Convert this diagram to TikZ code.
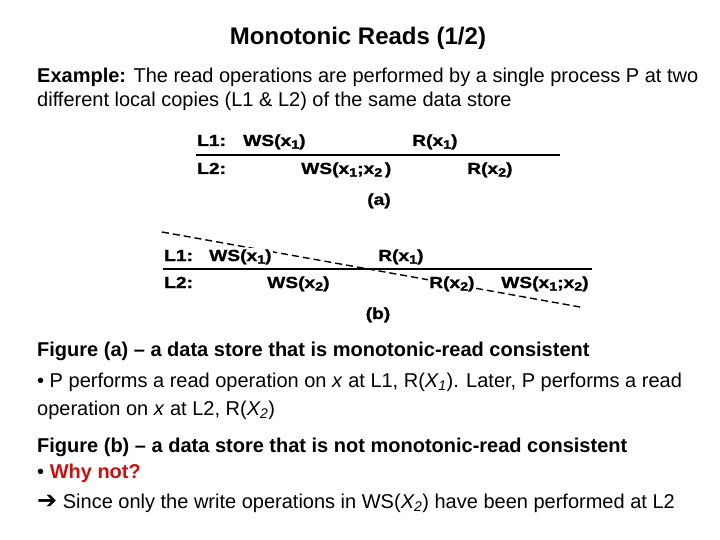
\documentclass[tikz,border=0pt]{standalone}
\usepackage{fontspec}
\setmainfont{Liberation Sans}
\newfontfamily\diagfont[FakeStretch=1.2,FakeBold=1.2]{Liberation Sans Bold}
\newfontfamily\symfont{DejaVu Sans}
\definecolor{whyred}{RGB}{200,16,16}
\newcommand\lowsub[1]{\raisebox{-0.3ex}{\fontsize{12}{12}\selectfont #1}}
\begin{document}
\begin{tikzpicture}[x=1pt,y=-1pt,
  body/.style={anchor=base west,inner sep=0pt,font=\fontsize{20}{24}\selectfont},
  dlab/.style={anchor=base west,inner sep=1pt,fill=white,font=\diagfont\fontsize{16}{18}\selectfont},
  caplab/.style={anchor=base,inner sep=1pt,font=\diagfont\fontsize{16}{18}\selectfont},
  timeline/.style={line width=1.8pt},
  cut/.style={line width=1.4pt,dash pattern=on 7pt off 4pt}]
\useasboundingbox (0,0) rectangle (720,540);
% title
\node[anchor=base,inner sep=0pt,font=\bfseries\fontsize{24}{28}\selectfont] (title) at (358,45) {Monotonic Reads (1/2)};
\node[body] (ex1) at (37,83) {\textbf{Example:} The read operations are performed by a single process P at two};
\node[body] (ex2) at (37,107) {different local copies (L1 \& L2) of the same data store};
% diagram (a)
\coordinate (a0) at (196,155);
\coordinate (a1) at (560,155);
\draw[timeline] (a0) -- (a1);
\node[dlab] (aL1) at (196,146) {L1:};
\node[dlab] (aW1) at (242,146) {WS(x\lowsub{1})};
\node[dlab] (aR1) at (411,146) {R(x\lowsub{1})};
\node[dlab] (aL2) at (196,174) {L2:};
\node[dlab] (aW2) at (300,174) {WS(x\lowsub{1};x\lowsub{2}\,)};
\node[dlab] (aR2) at (466,174) {R(x\lowsub{2})};
\node[caplab] (acap) at (379,205) {(a)};
% diagram (b)
\coordinate (b0) at (163,269);
\coordinate (b1) at (592,269);
\draw[line width=1.2pt] (b0) -- (b1);
\coordinate (c0) at (162,232);
\coordinate (c1) at (580,307);
\draw[cut] (c0) -- (c1);
\node[dlab] (bL1) at (163,261) {L1:};
\node[dlab] (bW1) at (208,261) {WS(x\lowsub{1})};
\node[dlab] (bR1) at (377,261) {R(x\lowsub{1})};
\node[dlab] (bL2) at (163,288) {L2:};
\node[dlab] (bW2) at (266,288) {WS(x\lowsub{2})};
\node[dlab] (bR2) at (428,288) {R(x\lowsub{2})};
\node[dlab] (bW3) at (500,288) {WS(x\lowsub{1};x\lowsub{2})};
\node[caplab] (bcap) at (378,319) {(b)};
% text
\node[body,font=\bfseries\fontsize{20}{24}\selectfont] (fa) at (37,356) {Figure (a) -- a data store that is monotonic-read consistent};
\node[body] (pa1) at (37,387) {• P performs a read operation on \textit{x} at L1, R(\textit{X\textsubscript{1}}). Later, P performs a read};
\node[body] (pa2) at (37,415) {operation on \textit{x} at L2, R(\textit{X\textsubscript{2}})};
\node[body,font=\bfseries\fontsize{20}{24}\selectfont] (fb) at (37,452) {Figure (b) -- a data store that is not monotonic-read consistent};
\node[body] (why) at (37,478) {• \textcolor{whyred}{\textbf{Why not?}}};
\node[body] (since) at (37,508) {{\symfont\bfseries\fontsize{24}{24}\selectfont ➔} Since only the write operations in WS(\textit{X\textsubscript{2}}) have been performed at L2};
\end{tikzpicture}
\end{document}
